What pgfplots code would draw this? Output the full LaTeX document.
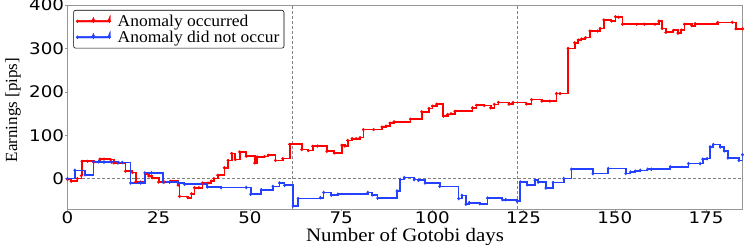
\documentclass[border=0pt]{standalone}
\usepackage{fontspec}
\setmainfont{Liberation Serif}
\newfontfamily\tickfont[FakeStretch=1.14]{DejaVu Sans}
\newfontfamily\labfont[FakeStretch=1.1]{Liberation Serif}
\newfontfamily\legfont[FakeStretch=1.06]{Liberation Serif}
\newfontfamily\ylabfont{Liberation Serif}
\usepackage{pgfplots}
\pgfplotsset{compat=1.18}
\definecolor{myred}{RGB}{255,0,0}
\definecolor{myblue}{RGB}{35,65,255}
\definecolor{framegray}{RGB}{150,150,150}

\pgfplotstableread{
x y
0 -2
1 -6
2.7 0
3.8 7
4 40
5.5 40
7.2 38
8.9 45
10 45
11.8 44
12.7 36
13.8 36
15.9 17
17.8 14
18.7 -8
20 -8
21.4 11
22.3 6
23.2 2
25 -8
26.5 -8
28.3 -6
30.3 -15
30.7 -41
33 -44
34 -35
34.8 -21
36 -21
37 -10
38.5 -10
39.4 -5.5
40.1 0
41.2 7.6
43 25
44 42
45 58
46 44
47.2 61.5
49 51.5
51.3 36
52 50
54 51
55 54
57 42
59 46
60.9 79
64.2 67
66 64.5
67.2 74.6
68.5 75
71.1 63
73.1 59
75.2 77
76 75
76.8 88
78 92
79.1 92
80.2 94.6
81.1 113
83.9 113
86.2 119
87.3 121
88.4 128
89.5 131
94 137
97.1 154
99.1 161.6
100 167
101.2 171.6
103 144
104.2 148
105.1 149.5
106.2 155
111 163
112.1 169
114.2 168.6
116 163
117 171
118.1 175.5
121 171.6
122.1 175.5
125.8 172
127.2 182
130 178.5
132.2 178.5
134 196
135 196
137.2 300
139 313
140 319.4
140.9 321.7
142 325
143.2 340
145.3 340
146 346
147 365.6
149.1 363
150.2 373
151 372
152.1 355.7
156 355.7
158.1 355.7
161 355.7
162.1 363
163 346
164 337
166.1 341.8
167.3 335
168.2 342.5
169.1 355.7
171.1 352.4
172 357
178.2 360
182.2 360
183.2 345
185 345
}\redtable

\pgfplotstableread{
x y
0 0
2 19
4.8 9
7.1 39
8.5 39
10 38
12 38
14 37
15 37
17.3 -10
20 -10
21.2 13
23 13
26.2 -8
28 -8
30.3 -10
32.1 -13
38.3 -19
42.1 -20.8
49 -20.5
50.2 -36
53.1 -25.5
56.3 -18
58.1 -10
59.5 -15.5
61.8 -63
63.2 -46
69.3 -44
70.2 -32
72.3 -38
74.1 -36
82.3 -32
83.5 -37.6
85 -45
90.3 -28.6
91.2 -2.3
92.3 2.3
95 -2.3
96.2 -4
98 -10
102 -18
107.2 -46
108.1 -38.6
109.2 -59
110.1 -55.4
113 -57.7
115.1 -45
119.2 -48.5
120.1 -48.5
123.2 -52
124.1 -8
126 -14
128.1 -4
129 -8
131.1 -21.7
133.1 -9
136 0
138.1 21.5
144 11.5
148.2 23
153 12
154.3 15
155.6 17
157 19
159 21.5
160 21.5
165.2 27
170.2 34.6
173.4 34.6
174.1 44.6
175.3 46
176.1 73
177 78.5
178.9 73
180 64
181 47.6
184 42
185 55
}\bluetable

\begin{document}
\begin{tikzpicture}
\useasboundingbox (-67.5pt,-36pt) rectangle ++(748pt,245pt);
\clip (-67.5pt,-36pt) rectangle ++(748pt,245pt);
\begin{axis}[
  scale only axis,
  width=675pt, height=204pt,
  xmin=0, xmax=185, ymin=-70, ymax=400,
  xtick={0,25,...,175}, ytick={0,100,...,400},
  axis line style={framegray, line width=0.8pt},
  tick style={framegray, line width=0.6pt},
  tick align=outside, major tick length=2.5pt,
  xtick pos=bottom, ytick pos=left,
  /pgf/number format/assume math mode=true,
  ticklabel style={font=\tickfont\fontsize{16}{16}\selectfont, black},
  yticklabel style={inner sep=0.8pt},
  xticklabel style={inner sep=0.3pt},
  extra x ticks={61.67,123.33}, extra x tick labels={},
  extra y ticks={0}, extra y tick labels={},
  extra tick style={grid=major, major grid style={densely dashed, gray, line width=0.6pt}, major tick length=0pt},
  xlabel={\labfont\fontsize{19}{19}\selectfont Number of Gotobi days},
  xlabel style={at={(axis description cs:0.5,-0.16)}, anchor=base, inner sep=0pt},
  ylabel={\ylabfont\fontsize{17}{17}\selectfont Earnings [pips]},
  ylabel style={at={(axis description cs:-0.0807,0.485)}, anchor=center},
  legend style={at={(axis description cs:0.0086,0.9755)}, anchor=north west,
    draw=black, line width=0.6pt, rounded corners=2pt, fill=white,
    font=\legfont\fontsize{16.5}{16.5}\selectfont, row sep=-1pt, inner sep=2.5pt},
  legend cell align=left,
  legend image code/.code={\draw[#1, line width=1.7pt] plot coordinates {(0pt,0pt) (16pt,0pt) (32pt,0pt)};
    \path plot[mark repeat=2, mark phase=2] coordinates {(0pt,0pt) (16pt,0pt) (32pt,0pt)};},
]
\addplot[const plot, myred, line width=1.7pt, mark=*, mark size=1.3pt, mark options={fill=myred, line width=0.5pt}] table[x=x,y=y] {\redtable};
\addlegendentry{\hspace*{5pt}Anomaly occurred}
\addplot[const plot, myblue, line width=1.7pt, mark=diamond*, mark size=1.5pt, mark options={fill=myblue, line width=0.5pt}] table[x=x,y=y] {\bluetable};
\addlegendentry{\hspace*{5pt}Anomaly did not occur}
\end{axis}
\end{tikzpicture}
\end{document}
